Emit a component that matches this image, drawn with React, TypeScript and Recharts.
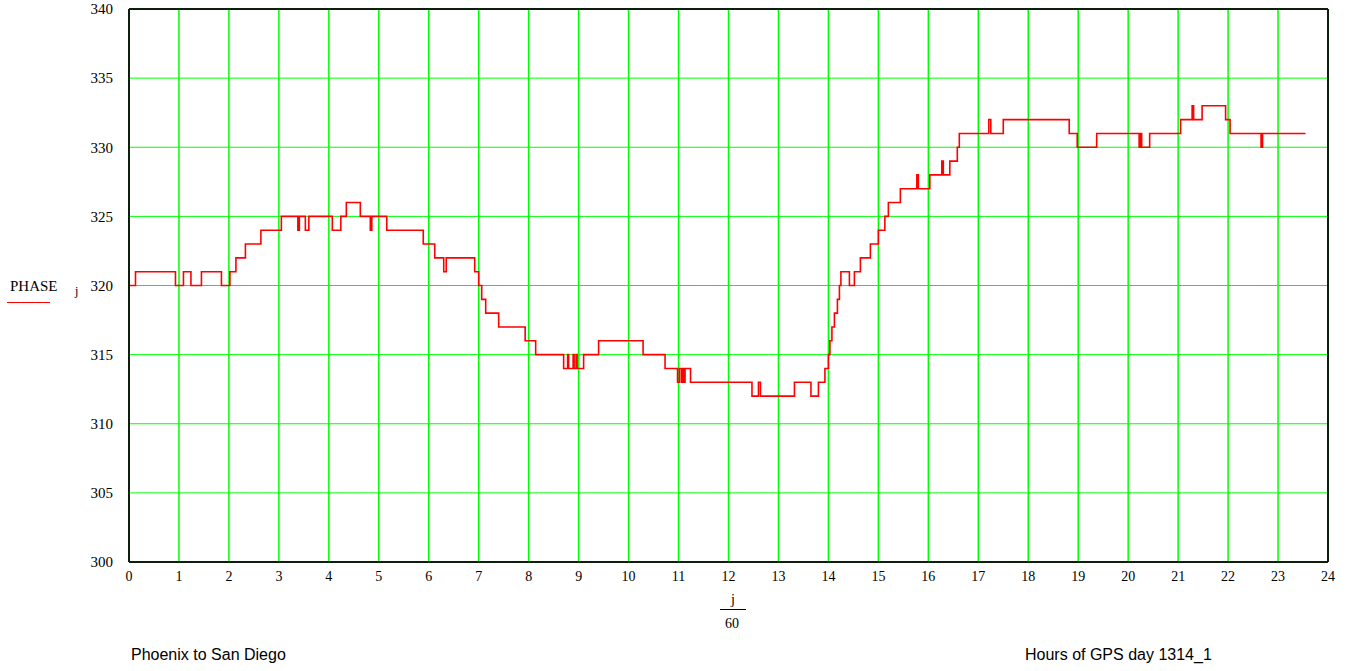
import { LineChart, Line, XAxis, YAxis, CartesianGrid, ReferenceLine } from "recharts";

// change points: hour of day -> phase reading (held until the next change)
const hours = [
  0, 0.13, 0.93, 1.09, 1.24, 1.45, 1.85, 2.02, 2.14, 2.33,
  2.64, 3.05, 3.38, 3.41, 3.53, 3.6, 4.07, 4.24, 4.35, 4.63,
  4.83, 4.86, 5.16, 5.89, 6.12, 6.3, 6.35, 6.92, 7.0, 7.06,
  7.14, 7.4, 7.93, 8.14, 8.7, 8.78, 8.8, 8.89, 8.91, 8.95,
  8.97, 9.1, 9.4, 10.29, 10.73, 10.98, 11.02, 11.06, 11.09, 11.11,
  11.13, 11.24, 12.47, 12.6, 12.64, 13.32, 13.65, 13.8, 13.93, 14.0,
  14.03, 14.07, 14.12, 14.18, 14.22, 14.25, 14.42, 14.52, 14.64, 14.84,
  15.0, 15.13, 15.2, 15.44, 15.77, 15.8, 16.03, 16.27, 16.3, 16.43,
  16.58, 16.62, 17.21, 17.25, 17.5, 18.82, 18.98, 19.37, 20.22, 20.25,
  20.27, 20.43, 21.05, 21.28, 21.31, 21.48, 21.95, 22.04, 22.66, 22.69,
  23.55,
];

const phase = [
  320, 321, 320, 321, 320, 321, 320, 321, 322, 323,
  324, 325, 324, 325, 324, 325, 324, 325, 326, 325,
  324, 325, 324, 323, 322, 321, 322, 321, 320, 319,
  318, 317, 316, 315, 314, 315, 314, 315, 314, 315,
  314, 315, 316, 315, 314, 313, 314, 313, 314, 313,
  314, 313, 312, 313, 312, 313, 312, 313, 314, 315,
  316, 317, 318, 319, 320, 321, 320, 321, 322, 323,
  324, 325, 326, 327, 328, 327, 328, 329, 328, 329,
  330, 331, 332, 331, 332, 331, 330, 331, 330, 331,
  330, 331, 332, 333, 332, 333, 332, 331, 330, 331,
  331,
];

const xTicks = [0, 1, 2, 3, 4, 5, 6, 7, 8, 9, 10, 11, 12, 13, 14, 15, 16, 17, 18, 19, 20, 21, 22, 23, 24];
const yTicks = [300, 305, 310, 315, 320, 325, 330, 335, 340];

const data = hours.map((h, i) => ({ h, phase: phase[i] }));

const serif = '"Liberation Serif", "Times New Roman", serif';
const sans = '"Liberation Sans", Arial, sans-serif';
const frame = "#0b1f0b";

export default function App() {
  return (
    <div style={{ position: "absolute", left: 0, top: 0, width: 1348, height: 671, background: "#fff" }}>
      <LineChart
        width={1348}
        height={671}
        data={data}
        margin={{ top: 9, right: 20, bottom: 79, left: 89 }}
      >
        <CartesianGrid stroke="#00ff00" strokeWidth={1} vertical={false} />
        <CartesianGrid stroke="#00ff00" strokeWidth={1.5} horizontal={false} />
        <XAxis
          dataKey="h"
          type="number"
          domain={[0, 24]}
          ticks={xTicks}
          interval={0}
          tickLine={false}
          tickSize={0}
          tickMargin={9}
          axisLine={{ stroke: frame, strokeWidth: 2 }}
          tick={{ fill: "#000", fontFamily: serif, fontSize: 14 }}
          height={30}
        />
        <YAxis
          type="number"
          domain={[300, 340]}
          ticks={yTicks}
          interval={0}
          tickLine={false}
          tickSize={0}
          tickMargin={16}
          axisLine={{ stroke: frame, strokeWidth: 2 }}
          tick={{ fill: "#000", fontFamily: serif, fontSize: 15 }}
          width={40}
        />
        <ReferenceLine y={340} stroke={frame} strokeWidth={2} />
        <ReferenceLine x={24} stroke={frame} strokeWidth={2} />
        <Line
          dataKey="phase"
          type="stepAfter"
          stroke="#ff0000"
          strokeWidth={1.6}
          dot={false}
          activeDot={false}
          isAnimationActive={false}
        />
      </LineChart>

      {/* y axis caption with legend swatch */}
      <div style={{ position: "absolute", left: 10, top: 278, fontFamily: serif, fontSize: 15, color: "#000", lineHeight: "16px" }}>
        PHASE
      </div>
      <div style={{ position: "absolute", left: 7, top: 302, width: 43, height: 1, background: "#ff0000" }} />
      <div style={{ position: "absolute", left: 75, top: 284, fontFamily: serif, fontSize: 12, color: "#000", lineHeight: "14px" }}>
        j
      </div>

      {/* x axis caption j / 60 */}
      <div style={{ position: "absolute", left: 713, top: 592, width: 40, textAlign: "center", fontFamily: serif, fontSize: 14, color: "#000", lineHeight: "16px" }}>
        j
      </div>
      <div style={{ position: "absolute", left: 720, top: 609, width: 26, height: 1, background: "#000" }} />
      <div style={{ position: "absolute", left: 712, top: 616, width: 40, textAlign: "center", fontFamily: serif, fontSize: 14, color: "#000", lineHeight: "16px" }}>
        60
      </div>

      <div style={{ position: "absolute", left: 131, top: 645, fontFamily: sans, fontSize: 16, color: "#000", lineHeight: "20px" }}>
        Phoenix to San Diego
      </div>
      <div style={{ position: "absolute", left: 1025, top: 645, fontFamily: sans, fontSize: 16, color: "#000", lineHeight: "20px" }}>
        Hours of GPS day 1314_1
      </div>
    </div>
  );
}
